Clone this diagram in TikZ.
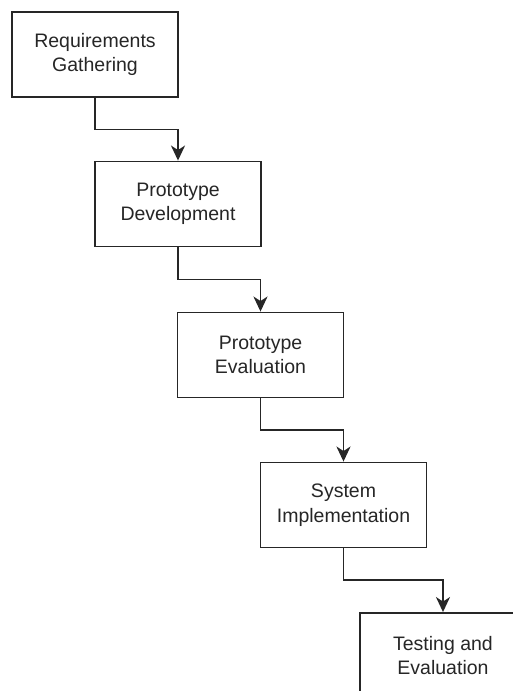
\documentclass[tikz,border=0pt]{standalone}
\usepackage{fontspec}
\setmainfont{Liberation Sans}
\usetikzlibrary{arrows.meta}
\begin{document}
\begin{tikzpicture}[x=1pt,y=-1pt,
  stepbox/.style={draw=black!85, line width=1.9pt, fill=white, minimum width=166pt, minimum height=85pt,
    align=center, inner sep=0pt, font=\fontsize{19.5}{24.5}\selectfont, text=black!85},
  conn/.style={draw=black!85, line width=1.9pt, -{Stealth[length=15pt,width=14pt,inset=4.5pt]}}]
\useasboundingbox (0,0) rectangle (513,691);
\clip (0,0) rectangle (513,691);
\node[stepbox] (req) at (95,54.5) {Requirements\\Gathering};
\node[stepbox] (dev) at (178,204) {Prototype\\Development};
\node[stepbox] (eval) at (260.5,355) {Prototype\\Evaluation};
\node[stepbox] (impl) at (343.5,505) {System\\Implementation};
\node[stepbox] (test) at (443,655.5) {Testing and\\Evaluation};
\draw[conn] (req.south) |- (178,129.5) -- (dev.north);
\draw[conn] (dev.south) |- (260.5,279.5) -- (eval.north);
\draw[conn] (eval.south) |- (343.5,430) -- (impl.north);
\draw[conn] (impl.south) |- (443,580) -- (test.north);
\end{tikzpicture}
\end{document}
